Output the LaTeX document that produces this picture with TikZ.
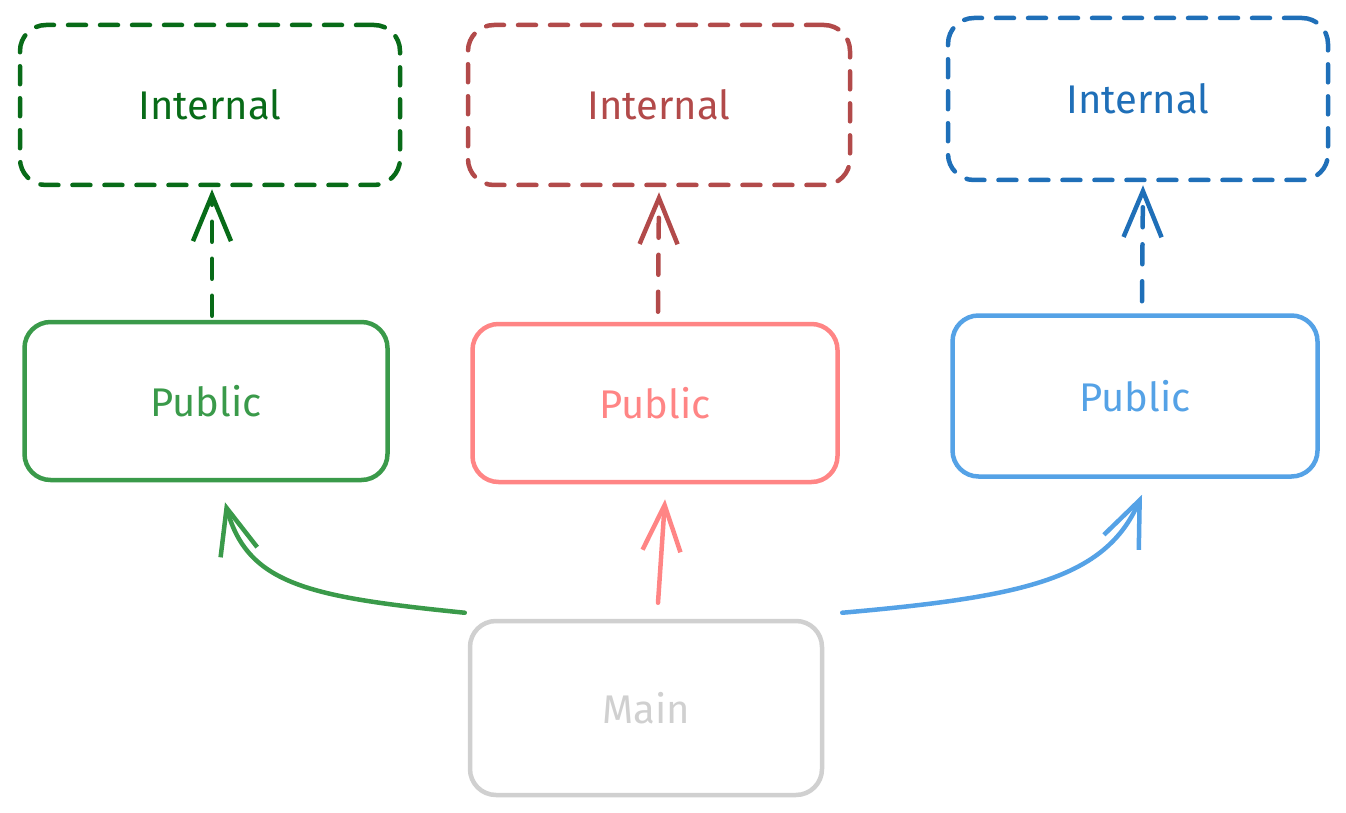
\documentclass[tikz,border=0pt]{standalone}
\usepackage{fontspec}
\setmainfont{Fira Sans}
\usetikzlibrary{arrows.meta}
\definecolor{gdark}{HTML}{086B18}
\definecolor{gmid}{HTML}{3A9A4A}
\definecolor{rdark}{HTML}{B24A4A}
\definecolor{rmid}{HTML}{FF8585}
\definecolor{bdark}{HTML}{1F6FB8}
\definecolor{bmid}{HTML}{55A2E6}
\definecolor{gray1}{HTML}{D0D0D0}
\tikzset{
  box/.style={draw, line width=4.5pt, rounded corners=26pt, align=center,
    font=\fontsize{40}{44}\selectfont, inner sep=0pt},
  dbox/.style={box, dash pattern=on 18pt off 14pt, line cap=round},
  conn/.style={line width=4.5pt, line cap=round, -{Straight Barb[length=46pt,width=38pt,line width=4.5pt]}},
  dconn/.style={conn, dash pattern=on 20pt off 17pt},
}
\begin{document}
\begin{tikzpicture}[x=1pt,y=-1pt]
\useasboundingbox (0,0) rectangle (1346,813);
% Internal boxes
\node[dbox, color=gdark, minimum width=380pt, minimum height=160pt] (ig) at (210,105) {Internal};
\node[dbox, color=rdark, minimum width=382pt, minimum height=160pt] (ir) at (659,105) {Internal};
\node[dbox, color=bdark, minimum width=380pt, minimum height=162pt] (ib) at (1138,99) {Internal};
% Public boxes
\node[box, color=gmid, minimum width=363pt, minimum height=158pt] (pg) at (206,401) {Public};
\node[box, color=rmid, minimum width=365pt, minimum height=158pt] (pr) at (655,403) {Public};
\node[box, color=bmid, minimum width=365pt, minimum height=161pt] (pb) at (1135,396) {Public};
% Main
\node[box, color=gray1, minimum width=352pt, minimum height=174pt] (m) at (646,708) {Main};
% dashed arrows
\draw[dconn, gdark] ([xshift=6pt,yshift=4pt]pg.north) -- ([xshift=2pt,yshift=-2pt]ig.south);
\draw[dconn, rdark] ([xshift=3pt,yshift=10pt]pr.north) -- ([yshift=-5pt]ir.south);
\draw[dconn, bdark] ([xshift=7pt,yshift=12pt]pb.north) -- ([xshift=5pt,yshift=-3pt]ib.south);
% solid arrows
\draw[conn, gmid] ([xshift=-3pt,yshift=6pt]m.north west) .. controls (310,597) and (248,585) .. ([xshift=19pt,yshift=-20pt]pg.south);
\draw[conn, rmid] ([xshift=12pt,yshift=16pt]m.north) -- ([xshift=10pt,yshift=-15pt]pr.south);
\draw[conn, bmid] ([xshift=18pt,yshift=6pt]m.north east) .. controls (1020,597) and (1105,580) .. ([xshift=7pt,yshift=-16pt]pb.south);
\end{tikzpicture}
\end{document}
